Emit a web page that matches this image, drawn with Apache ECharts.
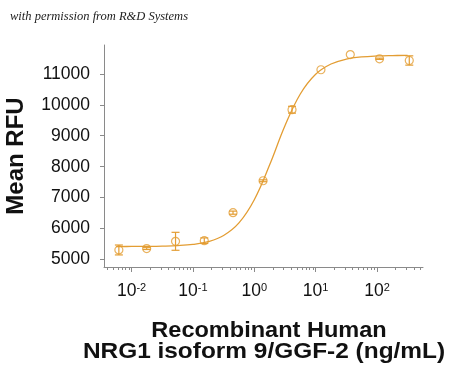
<!DOCTYPE html>
<html>
<head>
<meta charset="utf-8">
<script src="https://cdn.jsdelivr.net/npm/echarts@6/dist/echarts.min.js"></script>
<style>html,body{margin:0;padding:0;background:#fff}#c{width:450px;height:370px}</style>
</head>
<body>
<div id="c"></div>
<script>
// Data
const concentrations = [0.0062, 0.0176, 0.052, 0.153, 0.45, 1.39, 4.12, 12.2, 36.7, 110, 336]; // ng/mL
const meanRFU = [5310, 5355, 5590, 5610, 6515, 7545, 9840, 11130, 11620, 11485, 11430];
const errRFU = [160, 30, 290, 90, 50, 30, 110, 0, 0, 20, 150];
// fitted curve (x in ng/mL, y in RFU)
const curveX = [0.0056, 0.01, 0.0178, 0.0316, 0.0562, 0.1, 0.178, 0.316, 0.562, 1, 1.78, 3.16, 5.62, 10, 17.8, 31.6, 56.2, 100, 178, 316];
const curveY = [5421, 5423, 5426, 5434, 5451, 5491, 5581, 5778, 6184, 6933, 8059, 9321, 10347, 10985, 11316, 11473, 11544, 11576, 11589, 11595];
const yTicks = [5000, 6000, 7000, 8000, 9000, 10000, 11000];
const xDecades = [-2, -1, 0, 1, 2];

const ORANGE = '#E39D33';
const AXIS = '#8a8a8a';
const lg = Math.log10;

const minorTicks = [];
for (let e = -3; e <= 2; e++) {
  for (let k = 2; k <= 9; k++) {
    const v = lg(k) + e;
    if (v > -2.45 && v < 2.75) minorTicks.push(v);
  }
}

const chart = echarts.init(document.getElementById('c'), null, {renderer: 'canvas'});
const xMin = -2.45, xMax = 2.75;
chart.setOption({
  animation: false,
  grid: {left: 104, right: 27, top: 45, bottom: 103},
  xAxis: [{
    type: 'value', min: xMin, max: xMax,
    axisLine: {onZero: false, lineStyle: {color: AXIS, width: 1}},
    axisTick: {show: true, customValues: xDecades, length: 5, lineStyle: {color: AXIS}},
    splitLine: {show: false},
    axisLabel: {
      customValues: xDecades, margin: 15,
      formatter: v => '{b|10}{s|' + Math.round(v) + '}',
      rich: {
        b: {fontFamily: 'Liberation Sans, Arial', fontSize: 17.5, color: '#111'},
        s: {fontFamily: 'Liberation Sans, Arial', fontSize: 11, color: '#111', verticalAlign: 'top'}
      }
    }
  }, {
    type: 'value', min: xMin, max: xMax, position: 'bottom',
    axisLine: {show: false, onZero: false},
    axisTick: {show: true, customValues: minorTicks, length: 3, lineStyle: {color: AXIS}},
    axisLabel: {show: false}, splitLine: {show: false}
  }],
  yAxis: {
    type: 'value', min: 4760, max: 11930,
    axisLine: {show: true, onZero: false, lineStyle: {color: AXIS, width: 1}},
    axisTick: {show: true, customValues: yTicks, length: 4, lineStyle: {color: AXIS}},
    splitLine: {show: false},
    axisLabel: {customValues: yTicks, margin: 14, formatter: v => String(v), fontFamily: 'Liberation Sans, Arial', fontSize: 17.5, color: '#111'}
  },
  series: [{
    type: 'line', data: curveX.map((x, i) => [lg(x), curveY[i]]),
    smooth: 0.4, showSymbol: false, lineStyle: {color: ORANGE, width: 1.3}, z: 2
  }, {
    type: 'custom', z: 3,
    data: concentrations.map((x, i) => [lg(x), meanRFU[i], errRFU[i]]),
    renderItem: (params, api) => {
      const x = api.value(0), y = api.value(1), e = api.value(2);
      if (!e) return null;
      const top = api.coord([x, y + e]);
      const bot = api.coord([x, y - e]);
      const w = 4;
      const st = {stroke: ORANGE, lineWidth: 1.2};
      return {type: 'group', children: [
        {type: 'line', shape: {x1: top[0], y1: top[1], x2: bot[0], y2: bot[1]}, style: st},
        {type: 'line', shape: {x1: top[0] - w, y1: top[1], x2: top[0] + w, y2: top[1]}, style: st},
        {type: 'line', shape: {x1: bot[0] - w, y1: bot[1], x2: bot[0] + w, y2: bot[1]}, style: st}
      ]};
    }
  }, {
    type: 'scatter', z: 4,
    data: concentrations.map((x, i) => [lg(x), meanRFU[i]]),
    symbol: 'circle', symbolSize: 8,
    itemStyle: {color: 'rgba(255,255,255,0)', borderColor: ORANGE, borderWidth: 1.2}
  }],
  graphic: [{
    type: 'text', x: 10, y: 10,
    style: {text: 'with permission from R&D Systems', font: 'italic 12.5px "Liberation Serif", "DejaVu Serif", serif', fill: '#222'}
  }, {
    type: 'text', x: 16, y: 156, rotation: Math.PI / 2,
    style: {text: 'Mean RFU', font: 'bold 24px "Liberation Sans", Arial, sans-serif', fill: '#111', align: 'center', verticalAlign: 'middle'}
  }, {
    type: 'text', x: 269, y: 331, scaleX: 1.07, originX: 0,
    style: {text: 'Recombinant Human', font: 'bold 22px "Liberation Sans", Arial, sans-serif', fill: '#111', align: 'center', verticalAlign: 'middle'}
  }, {
    type: 'text', x: 264, y: 352, scaleX: 1.11,
    style: {text: 'NRG1 isoform 9/GGF-2 (ng/mL)', font: 'bold 22px "Liberation Sans", Arial, sans-serif', fill: '#111', align: 'center', verticalAlign: 'middle'}
  }]
});
</script>
</body>
</html>
